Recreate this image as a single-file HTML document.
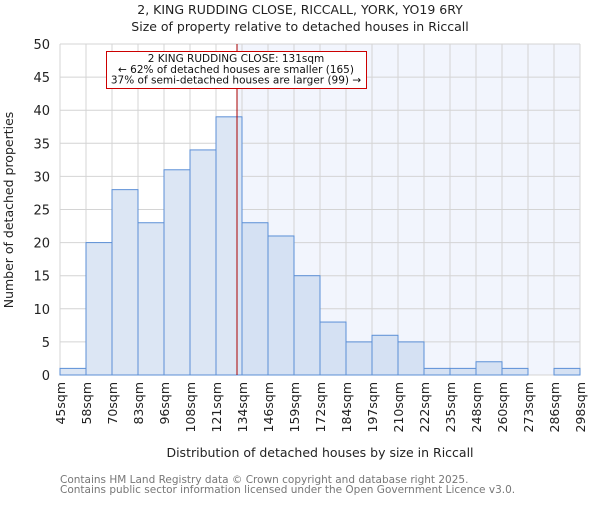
<!DOCTYPE html>
<html><head><meta charset="utf-8"><style>
body{margin:0;background:#fff}
svg text{font-family:"DejaVu Sans","Liberation Sans",sans-serif}
</style></head><body>
<svg id="chart" width="600" height="500" xmlns="http://www.w3.org/2000/svg">
<text x="300" y="14" text-anchor="middle" font-size="12.5" fill="#222">2, KING RUDDING CLOSE, RICCALL, YORK, YO19 6RY</text>
<text x="300" y="31" text-anchor="middle" font-size="12.5" fill="#222">Size of property relative to detached houses in Riccall</text>
<g id="plot"></g>
<text x="320" y="457" text-anchor="middle" font-size="12.5" fill="#222">Distribution of detached houses by size in Riccall</text>
<text transform="translate(13,210) rotate(-90)" text-anchor="middle" font-size="12.5" fill="#222">Number of detached properties</text>
<text x="60" y="483" font-size="10.5" fill="#777">Contains HM Land Registry data © Crown copyright and database right 2025.</text>
<text x="60" y="493" font-size="10.5" fill="#777">Contains public sector information licensed under the Open Government Licence v3.0.</text>
</svg>
<script>
const labels=["45sqm","58sqm","70sqm","83sqm","96sqm","108sqm","121sqm","134sqm","146sqm","159sqm","172sqm","184sqm","197sqm","210sqm","222sqm","235sqm","248sqm","260sqm","273sqm","286sqm","298sqm"];
const edges=[45,58,70,83,96,108,121,134,146,159,172,184,197,210,222,235,248,260,273,286,298];
const counts=[1,20,28,23,31,34,39,23,21,15,8,5,6,5,1,1,2,1,0,1];
const yTicks=[0,5,10,15,20,25,30,35,40,45,50];
const marker=131;
const X0=60,W=26,Y0=375,YT=44,YMAX=50;
const NS="http://www.w3.org/2000/svg";
const g=document.getElementById('plot');
const xi=i=>X0+i*W;
const y=v=>Y0-(v/YMAX)*(Y0-YT);
const xv=v=>{for(let i=0;i<edges.length-1;i++){if(v<=edges[i+1])return xi(i)+W*(v-edges[i])/(edges[i+1]-edges[i]);}return xi(edges.length-1);};
const XE=xi(counts.length);
function mk(t,a){const e=document.createElementNS(NS,t);for(const k in a)e.setAttribute(k,a[k]);g.appendChild(e);return e;}
const mx=xv(marker)+1;
let sh=mk('rect',{x:mx,y:YT,width:XE-mx,height:Y0-YT,fill:'#f2f5fd'});


for(let i=0;i<labels.length;i++){let l=mk('line',{x1:xi(i),x2:xi(i),y1:YT,y2:Y0,stroke:'#d4d4d4','stroke-width':1});

}
yTicks.forEach(t=>{let l=mk('line',{x1:X0,x2:XE,y1:y(t),y2:y(t),stroke:'#d4d4d4','stroke-width':1});


let tx=mk('text',{x:X0-10,y:y(t)+5,'text-anchor':'end','font-size':13,fill:'#222'});tx.textContent=t;

});
counts.forEach((c,i)=>{if(c<=0)return;let r=mk('rect',{x:xi(i),y:y(c),width:W,height:Y0-y(c),fill:xi(i)>=mx?'#d5e1f3':'#dce6f4',stroke:'#5b8fd6','stroke-width':1});

});
labels.forEach((s,i)=>{let tx=mk('text',{transform:`translate(${xi(i)+5},382) rotate(-90)`,'text-anchor':'end','font-size':12.5,fill:'#222'});tx.textContent=s;

});
let ml=mk('line',{x1:mx,x2:mx,y1:YT,y2:Y0,stroke:'#a00','stroke-width':1});


let box=mk('rect',{x:106.5,y:51.5,width:260,height:37,fill:'#fff',stroke:'#c00','stroke-width':1});


["2 KING RUDDING CLOSE: 131sqm","← 62% of detached houses are smaller (165)","37% of semi-detached houses are larger (99) →"].forEach((s,k)=>{let tx=mk('text',{x:236,y:62+k*10.8,'text-anchor':'middle','font-size':10.5,fill:'#111'});tx.textContent=s;

});
</script>
</body></html>
